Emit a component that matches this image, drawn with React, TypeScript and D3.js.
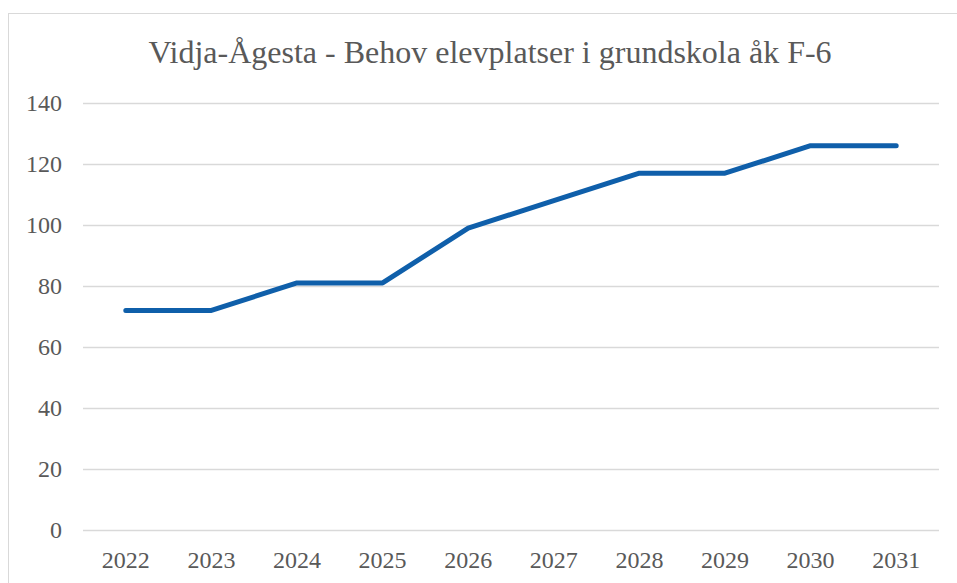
import * as d3 from "d3";

const years = ["2022", "2023", "2024", "2025", "2026", "2027", "2028", "2029", "2030", "2031"];
const places = [72, 72, 81, 81, 99, 108, 117, 117, 126, 126];
const yTicks = [0, 20, 40, 60, 80, 100, 120, 140];
const title = "Vidja-Ågesta - Behov elevplatser i grundskola åk F-6";

const width = 957;
const height = 583;
const marginLeft = 83;
const marginRight = 18;
const marginTop = 103;
const marginBottom = 53;

const font = "Liberation Serif";
const textColor = "#595959";

export default function App() {
  const xScale = d3
    .scaleBand()
    .domain(years)
    .range([marginLeft, width - marginRight]);

  const yScale = d3
    .scaleLinear()
    .domain([0, 140])
    .range([height - marginBottom, marginTop]);

  const line = d3
    .line<number>()
    .x((_, i) => (xScale(years[i]) as number) + xScale.bandwidth() / 2)
    .y((d) => yScale(d));

  return (
    <svg
      width={width}
      height={height}
      viewBox={`0 0 ${width} ${height}`}
      style={{ position: "absolute", left: 0, top: 0, background: "#fff" }}
    >
      {/* chart frame */}
      <rect x={8.5} y={13.5} width={width + 20} height={height + 20} fill="#fff" stroke="#d9d9d9" strokeWidth={1} />

      <text x={490} y={63} textAnchor="middle" fontFamily={font} fontSize={32} fill={textColor}>
        {title}
      </text>

      {/* gridlines */}
      <g className="grid">
        {yTicks.map((t) => (
          <line
            key={t}
            x1={marginLeft}
            x2={width - marginRight}
            y1={Math.round(yScale(t)) + 0.5}
            y2={Math.round(yScale(t)) + 0.5}
            stroke="#d9d9d9"
            strokeWidth={1.3}
          />
        ))}
      </g>

      {/* y labels */}
      <g className="y-axis">
        {yTicks.map((t) => (
          <text
            key={t}
            x={62}
            y={yScale(t) + 8}
            textAnchor="end"
            fontFamily={font}
            fontSize={24}
            fill={textColor}
          >
            {t}
          </text>
        ))}
      </g>

      {/* x labels */}
      <g className="x-axis">
        {years.map((y) => (
          <text
            key={y}
            x={(xScale(y) as number) + xScale.bandwidth() / 2}
            y={568}
            textAnchor="middle"
            fontFamily={font}
            fontSize={24}
            fill={textColor}
          >
            {y}
          </text>
        ))}
      </g>

      <path
        d={line(places) ?? ""}
        fill="none"
        stroke="#0F5FAA"
        strokeWidth={5}
        strokeLinejoin="round"
        strokeLinecap="round"
      />
    </svg>
  );
}
